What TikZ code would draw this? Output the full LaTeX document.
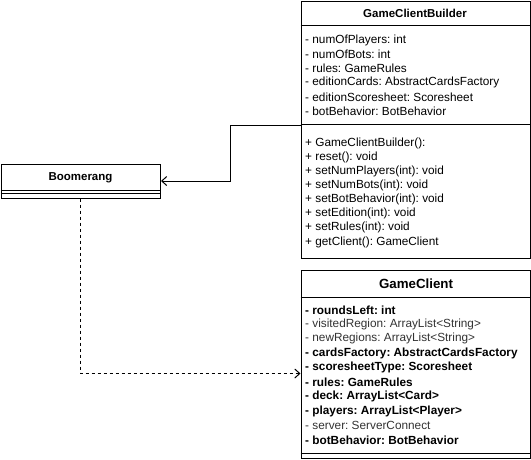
\documentclass[tikz,border=0pt]{standalone}
\usepackage{fontspec}
\setmainfont{Liberation Sans}
\usetikzlibrary{arrows.meta}
\frenchspacing
\begin{document}
\begin{tikzpicture}[x=1pt,y=-1pt,
  umlbox/.style={draw=black,line width=1pt,fill=white,inner sep=0pt,anchor=north west},
  divider/.style={draw=black,line width=1pt},
  title/.style={font=\fontsize{11.5}{14}\selectfont\bfseries,inner sep=0pt},
  bigtitle/.style={font=\fontsize{13.3}{16}\selectfont\bfseries,inner sep=0pt},
  member/.style={font=\fontsize{11.8}{14}\selectfont,inner sep=0pt,anchor=west},
  bmember/.style={member,font=\fontsize{11.8}{14}\selectfont\bfseries},
  smember/.style={member,text=black!80},
  link/.style={draw=black,line width=1pt,-{Straight Barb[length=5pt,width=9pt,line width=1pt]}},
  dep/.style={link,dash pattern=on 3pt off 3pt}]
\useasboundingbox[fill=white] (0,0) rectangle (531,459);

% GameClientBuilder class
\node[umlbox,minimum width=229pt,minimum height=257pt] (gcb) at (300.5,0.5) {};
\node[title] (gcbT) at (415,13.5) {GameClientBuilder};
\draw[divider] (300.5,25.5) -- (529.5,25.5);
\draw[divider] (300.5,124.5) -- (529.5,124.5);
\node[member] (b1) at (305,40) {- numOfPlayers: int};
\node[member] (b2) at (305,54.2) {- numOfBots: int};
\node[member] (b3) at (305,68.4) {- rules: GameRules};
\node[member] (b4) at (305,82.6) {- editionCards: AbstractCardsFactory};
\node[member] (b5) at (305,96.8) {- editionScoresheet: Scoresheet};
\node[member] (b6) at (305,111) {- botBehavior: BotBehavior};
\node[member] (m1) at (305,143) {+ GameClientBuilder():};
\node[member] (m2) at (305,157.1) {+ reset(): void};
\node[member] (m3) at (305,171.3) {+ setNumPlayers(int): void};
\node[member] (m4) at (305,185.4) {+ setNumBots(int): void};
\node[member] (m5) at (305,199.6) {+ setBotBehavior(int): void};
\node[member] (m6) at (305,213.7) {+ setEdition(int): void};
\node[member] (m7) at (305,227.9) {+ setRules(int): void};
\node[member] (m8) at (305,242) {+ getClient(): GameClient};

% Boomerang class
\node[umlbox,minimum width=159.5pt,minimum height=33.5pt] (boom) at (0.5,164) {};
\node[title] (boomT) at (80.5,177.5) {Boomerang};
\draw[divider] (0.5,190.5) -- (160,190.5);
\draw[divider] (0.5,193.5) -- (160,193.5);

% GameClient class
\node[umlbox,minimum width=229pt,minimum height=188pt] (gc) at (300.5,270) {};
\node[bigtitle] (gcT) at (416,284) {GameClient};
\draw[divider] (300.5,297) -- (529.5,297);
\draw[divider] (300.5,453) -- (529.5,453);
\node[bmember] (c1) at (305,310) {- roundsLeft: int};
\node[smember] (c2) at (305,324.4) {- visitedRegion: ArrayList<String>};
\node[smember] (c3) at (305,338.9) {- newRegions: ArrayList<String>};
\node[bmember] (c4) at (305,353.3) {- cardsFactory: AbstractCardsFactory};
\node[bmember] (c5) at (305,367.8) {- scoresheetType: Scoresheet};
\node[bmember] (c6) at (305,382.2) {- rules: GameRules};
\node[bmember] (c7) at (305,396.7) {- deck: ArrayList<Card>};
\node[bmember] (c8) at (305,411.1) {- players: ArrayList<Player>};
\node[smember] (c9) at (305,425.6) {- server: ServerConnect};
\node[bmember] (c10) at (305,440) {- botBehavior: BotBehavior};

% connectors
\coordinate (gcbIn) at (300.5,125.5);
\draw[link] (gcbIn) -| (230.5,181) -- (boom.east |- 0,181);
\draw[dep] (boom.south -| 80.5,0) |- (gc.west |- 0,373.5);
\end{tikzpicture}
\end{document}
